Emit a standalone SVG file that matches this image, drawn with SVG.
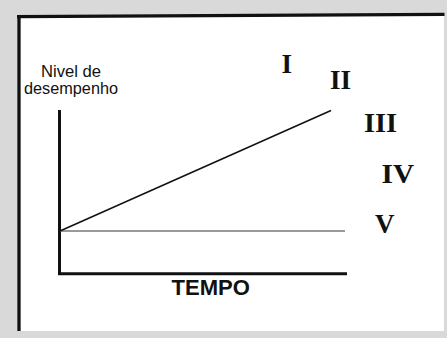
<svg xmlns="http://www.w3.org/2000/svg" width="447" height="338" viewBox="0 0 447 338">
<style>
.num{font-family:"Liberation Serif","Times New Roman",serif;font-weight:bold;font-size:27px;fill:#111}
.lbl{font-family:"Liberation Sans",Arial,sans-serif;font-size:16px;fill:#111}
.ttl{font-family:"Liberation Sans",Arial,sans-serif;font-weight:bold;font-size:22px;fill:#111}
.frame{stroke:#111;stroke-width:3.3;fill:none}
.axis{stroke:#111;stroke-width:3;fill:none}
</style>
<rect x="0" y="0" width="447" height="338" fill="#d9d9d9"/>
<polygon points="18,17 444,14 444,331 18,331" fill="#ffffff"/>
<g id="frame">
<line class="frame" x1="17" y1="16.6" x2="444.5" y2="14.4"/>
<line class="frame" x1="19" y1="15" x2="19" y2="331"/>
</g>
<g id="connectors">
<line class="axis" x1="59.5" y1="110" x2="59.5" y2="275"/>
<line class="axis" x1="58" y1="273.8" x2="347" y2="273.8"/>
<line x1="60" y1="231" x2="345" y2="231" stroke="#777" stroke-width="1.6"/>
<line x1="60" y1="231" x2="331" y2="110.5" stroke="#111" stroke-width="1.5"/>
</g>
<g id="ylabel">
<text class="lbl" x="71" y="76.5" text-anchor="middle" textLength="60" lengthAdjust="spacingAndGlyphs">Nivel de</text>
<text class="lbl" x="71" y="94" text-anchor="middle" textLength="94" lengthAdjust="spacingAndGlyphs">desempenho</text>
</g>
<g id="xlabel">
<text class="ttl" x="171.5" y="295" textLength="78.5" lengthAdjust="spacingAndGlyphs">TEMPO</text>
</g>
<g id="n1"><text class="num" x="281.5" y="73.3">I</text></g>
<g id="n2"><text class="num" x="330" y="89">II</text></g>
<g id="n3"><text class="num" x="364" y="132.3" textLength="33" lengthAdjust="spacingAndGlyphs">III</text></g>
<g id="n4"><text class="num" x="381.5" y="182.7" textLength="32.5" lengthAdjust="spacingAndGlyphs">IV</text></g>
<g id="n5"><text class="num" x="375" y="232.6">V</text></g>
</svg>
